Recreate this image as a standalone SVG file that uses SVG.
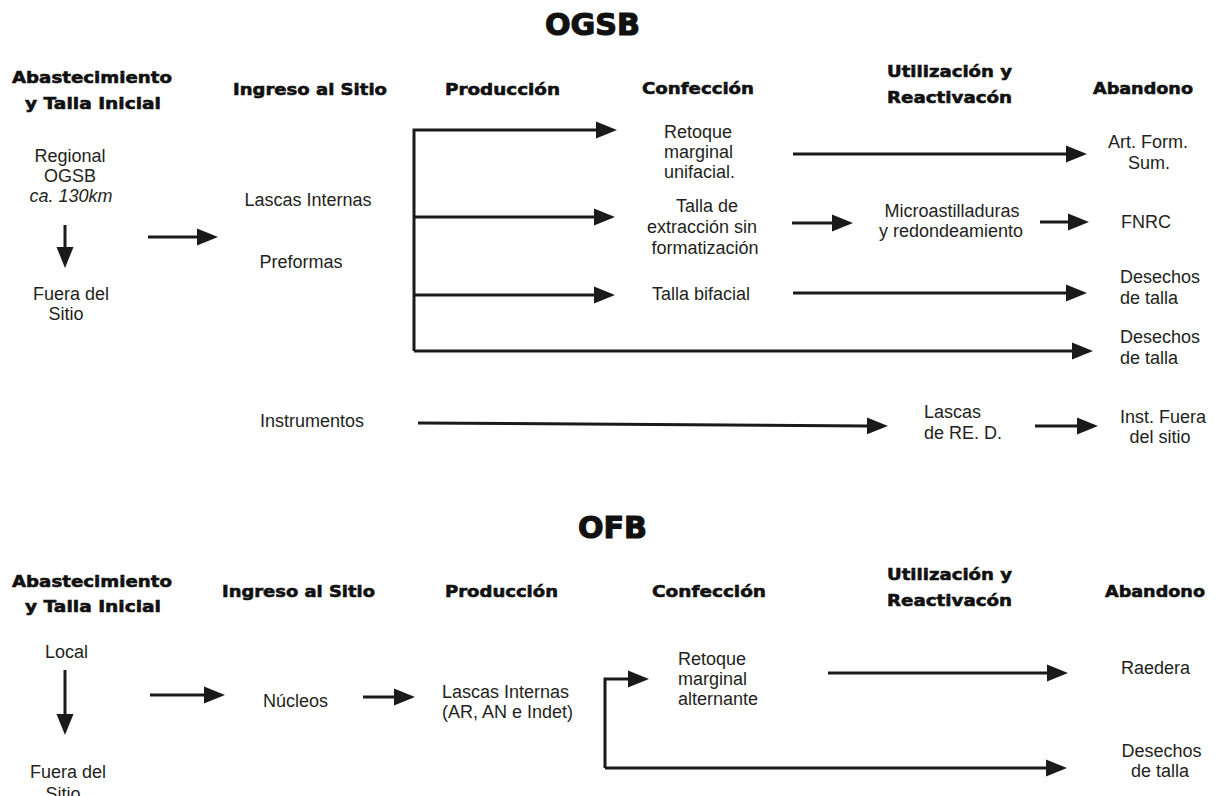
<svg xmlns="http://www.w3.org/2000/svg" width="1215" height="796" viewBox="0 0 1215 796">
<style>
.t{font-family:"Liberation Sans",Arial,sans-serif;font-size:18px;fill:#231f20}
.i{font-style:italic}
.m{text-anchor:middle}
.h{font-family:"DejaVu Sans","Liberation Sans",sans-serif;font-weight:bold;font-size:16.5px;fill:#111;stroke:#111;stroke-width:0.6px}
.ti{font-family:"DejaVu Sans","Liberation Sans",sans-serif;font-weight:bold;font-size:31px;fill:#111;stroke:#111;stroke-width:1.2px}
.c{fill:none;stroke:#1a1a1a;stroke-width:3;marker-end:url(#ah)}
</style>
<defs>
<marker id="ah" markerUnits="userSpaceOnUse" markerWidth="22" markerHeight="18" viewBox="0 0 22 18" refX="1" refY="9" orient="auto">
<path d="M0,0.5 L21,9 L0,17.5 z" fill="#1a1a1a"/>
</marker>
</defs>
<rect width="1215" height="796" fill="#fff"/>

<g id="title-ogsb"><text class="ti" x="545" y="35" textLength="95" lengthAdjust="spacingAndGlyphs">OGSB</text></g>
<g id="hdr-ogsb">
<text class="h" x="12" y="83" textLength="160" lengthAdjust="spacingAndGlyphs">Abastecimiento</text>
<text class="h" x="25" y="109" textLength="136" lengthAdjust="spacingAndGlyphs">y Talla Inicial</text>
<text class="h" x="233" y="95" textLength="154" lengthAdjust="spacingAndGlyphs">Ingreso al Sitio</text>
<text class="h" x="445" y="95" textLength="115" lengthAdjust="spacingAndGlyphs">Producción</text>
<text class="h" x="642" y="94" textLength="112" lengthAdjust="spacingAndGlyphs">Confección</text>
<text class="h" x="887" y="77" textLength="125" lengthAdjust="spacingAndGlyphs">Utilización y</text>
<text class="h" x="887" y="103" textLength="125" lengthAdjust="spacingAndGlyphs">Reactivacón</text>
<text class="h" x="1093" y="94" textLength="100" lengthAdjust="spacingAndGlyphs">Abandono</text>
</g>

<g id="n-regional"><text class="t m" x="70" y="162">Regional</text><text class="t m" x="70" y="182">OGSB</text><text class="t m i" x="71" y="202">ca. 130km</text></g>
<g id="n-fuera1"><text class="t m" x="71" y="300">Fuera del</text><text class="t m" x="66" y="320">Sitio</text></g>
<g id="n-lascas1"><text class="t m" x="308" y="206">Lascas Internas</text></g>
<g id="n-preformas"><text class="t m" x="301" y="268">Preformas</text></g>
<g id="n-instrumentos"><text class="t m" x="312" y="427">Instrumentos</text></g>
<g id="n-retoque1"><text class="t" x="664" y="138">Retoque</text><text class="t" x="664" y="158">marginal</text><text class="t" x="664" y="178">unifacial.</text></g>
<g id="n-talla-ext"><text class="t m" x="707" y="212">Talla de</text><text class="t m" x="702" y="233">extracción sin</text><text class="t m" x="705" y="254">formatización</text></g>
<g id="n-bifacial"><text class="t m" x="701" y="300">Talla bifacial</text></g>
<g id="n-microast"><text class="t m" x="952" y="217">Microastilladuras</text><text class="t m" x="951" y="237">y redondeamiento</text></g>
<g id="n-lascas-red"><text class="t" x="924" y="418">Lascas</text><text class="t" x="924" y="439">de RE. D.</text></g>
<g id="n-artform"><text class="t m" x="1148" y="148">Art. Form.</text><text class="t m" x="1149" y="169">Sum.</text></g>
<g id="n-fnrc"><text class="t m" x="1146" y="228">FNRC</text></g>
<g id="n-desechos1"><text class="t" x="1120" y="283">Desechos</text><text class="t" x="1120" y="304">de talla</text></g>
<g id="n-desechos2"><text class="t" x="1120" y="343">Desechos</text><text class="t" x="1120" y="364">de talla</text></g>
<g id="n-inst-fuera"><text class="t m" x="1163" y="423">Inst. Fuera</text><text class="t m" x="1160" y="443">del sitio</text></g>

<g id="title-ofb"><text class="ti" x="578" y="538" textLength="69" lengthAdjust="spacingAndGlyphs">OFB</text></g>
<g id="hdr-ofb">
<text class="h" x="12" y="587" textLength="160" lengthAdjust="spacingAndGlyphs">Abastecimiento</text>
<text class="h" x="25" y="612" textLength="136" lengthAdjust="spacingAndGlyphs">y Talla Inicial</text>
<text class="h" x="222" y="597" textLength="153" lengthAdjust="spacingAndGlyphs">Ingreso al Sitio</text>
<text class="h" x="445" y="597" textLength="113" lengthAdjust="spacingAndGlyphs">Producción</text>
<text class="h" x="652" y="597" textLength="114" lengthAdjust="spacingAndGlyphs">Confección</text>
<text class="h" x="887" y="580" textLength="125" lengthAdjust="spacingAndGlyphs">Utilización y</text>
<text class="h" x="887" y="606" textLength="125" lengthAdjust="spacingAndGlyphs">Reactivacón</text>
<text class="h" x="1105" y="597" textLength="100" lengthAdjust="spacingAndGlyphs">Abandono</text>
</g>

<g id="n-local"><text class="t m" x="66.5" y="658">Local</text></g>
<g id="n-fuera2"><text class="t m" x="68" y="778">Fuera del</text><text class="t m" x="63" y="800">Sitio</text></g>
<g id="n-nucleos"><text class="t m" x="295.5" y="707">Núcleos</text></g>
<g id="n-lascas2"><text class="t" x="442" y="698">Lascas Internas</text><text class="t" x="442" y="718">(AR, AN e Indet)</text></g>
<g id="n-retoque2"><text class="t" x="678" y="665">Retoque</text><text class="t" x="678" y="685">marginal</text><text class="t" x="678" y="705">alternante</text></g>
<g id="n-raedera"><text class="t" x="1121" y="674">Raedera</text></g>
<g id="n-desechos3"><text class="t m" x="1161.5" y="757">Desechos</text><text class="t m" x="1160" y="777">de talla</text></g>

<g id="connectors">
<path class="c" d="M65,225 V248"/>
<path class="c" d="M148,237 H198"/>
<path class="c" d="M414,351 V130 H597"/>
<path class="c" d="M414,217 H595"/>
<path class="c" d="M414,295 H595"/>
<path class="c" d="M414,351 H1073"/>
<path class="c" d="M793,154 H1067"/>
<path class="c" d="M792,223 H833"/>
<path class="c" d="M1040,222 H1069"/>
<path class="c" d="M793,293 H1067"/>
<path class="c" d="M418,423 L868,425.9"/>
<path class="c" d="M1035,426 H1078"/>

<path class="c" d="M65,670 V715"/>
<path class="c" d="M150,695 H205"/>
<path class="c" d="M363,697 H395"/>
<path class="c" d="M605,768 V679 H629"/>
<path class="c" d="M605,768 H1047"/>
<path class="c" d="M828,673 H1048"/>
</g>
</svg>
